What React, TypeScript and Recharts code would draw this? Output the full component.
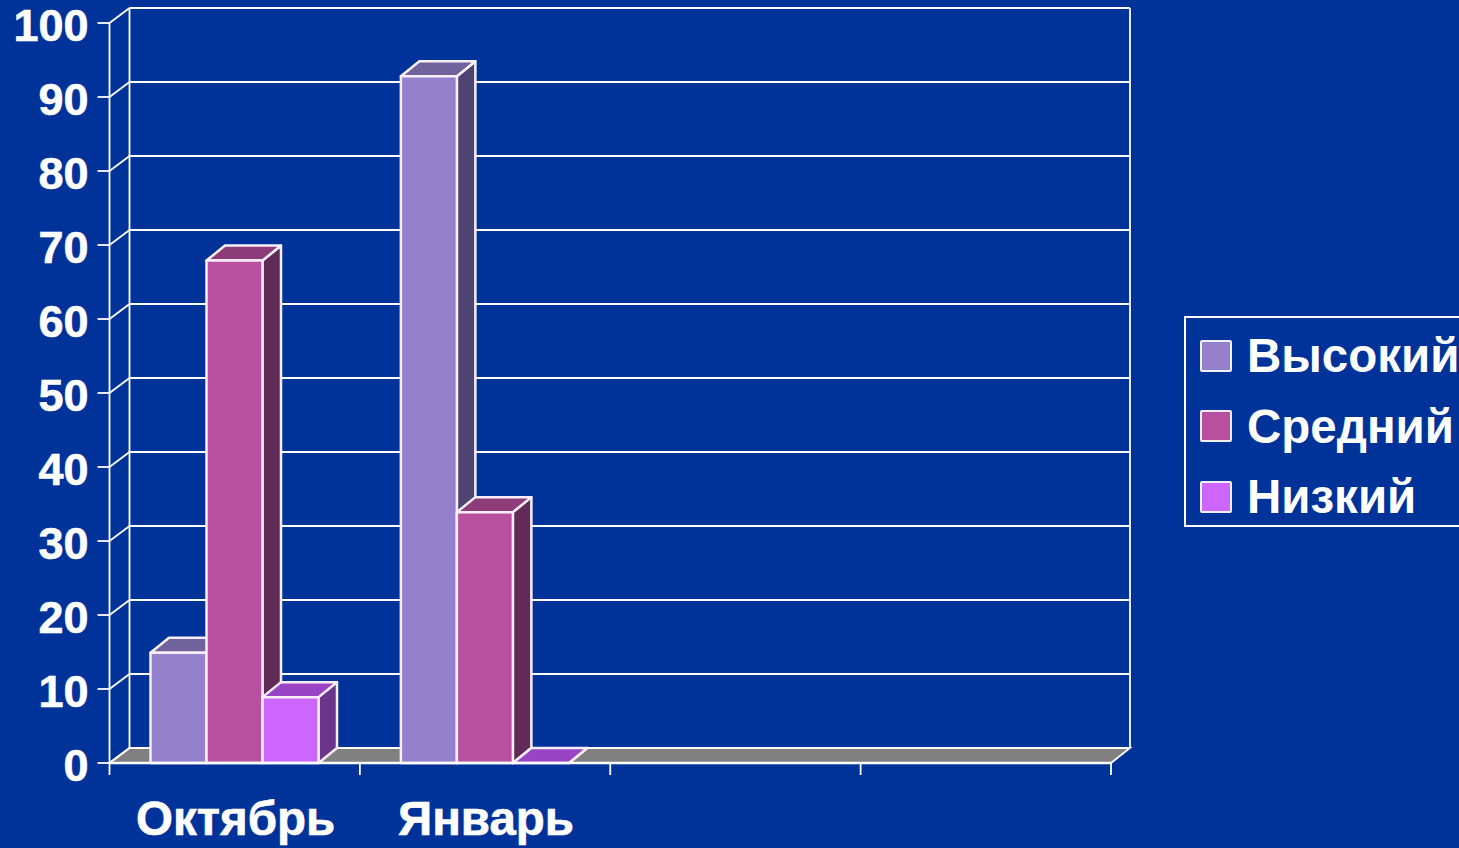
import React from "react";
import {
  BarChart,
  Bar,
  XAxis,
  YAxis,
  CartesianGrid,
  Legend,
  ReferenceArea,
} from "recharts";

const categories = ["Октябрь", "Январь", " ", "  "];
const highValues = [14.9, 92.8, null, null];
const midValues = [67.9, 33.9, null, null];
const lowValues = [8.9, 0, null, null];
const yTicks = [0, 10, 20, 30, 40, 50, 60, 70, 80, 90, 100];

const chartData = categories.map((name, i) => ({
  name,
  high: highValues[i],
  mid: midValues[i],
  low: lowValues[i],
}));

const BG = "#003399";
const FONT = "'Liberation Sans', Arial, sans-serif";
// depth of the fake 3D box
const DX = 18.5;
const DY = 15;

function box3d(topColor: string, sideColor: string) {
  return function Box(props: any) {
    const { x, y, width, height, fill } = props;
    if (x == null || y == null) return null;
    const r = x + width;
    const b = y + height;
    return (
      <g stroke="#f8eef8" strokeWidth={2.5} strokeLinejoin="round">
        <polygon
          points={`${r},${y} ${r + DX},${y - DY} ${r + DX},${b - DY} ${r},${b}`}
          fill={sideColor}
        />
        <polygon
          points={`${x},${y} ${x + DX},${y - DY} ${r + DX},${y - DY} ${r},${y}`}
          fill={topColor}
        />
        <rect x={x} y={y} width={width} height={height} fill={fill} />
      </g>
    );
  };
}

function YTick({ x, y, payload }: any) {
  return (
    <g>
      <line x1={x - 12} y1={y} x2={x} y2={y} stroke="#fff" strokeWidth={1.8} />
      <line x1={x} y1={y} x2={x + 20} y2={y - DY} stroke="#fff" strokeWidth={1.8} />
      <text
        x={x - 21}
        y={y + 18}
        textAnchor="end"
        fill="#fff"
        stroke="#fff"
        strokeWidth={0.6}
        fontFamily={FONT}
        fontWeight={700}
        fontSize={45}
      >
        {payload.value}
      </text>
    </g>
  );
}

function XTick({ x, y, payload, index }: any) {
  const half = payload.offset ?? 125;
  return (
    <g>
      <line x1={x - half} y1={y} x2={x - half} y2={y + 12} stroke="#fff" strokeWidth={1.8} />
      {index === categories.length - 1 && (
        <line x1={x + half} y1={y} x2={x + half} y2={y + 12} stroke="#fff" strokeWidth={1.8} />
      )}
      <text
        x={x + 1}
        y={y + 72}
        textAnchor="middle"
        fill="#fff"
        stroke="#fff"
        strokeWidth={0.6}
        fontFamily={FONT}
        fontWeight={700}
        fontSize={47.5}
      >
        {payload.value}
      </text>
    </g>
  );
}

// floor and the two upright edges of the back wall
function Floor({ x, y, width, height }: any) {
  const r = x + width;
  const b = y + height;
  return (
    <g>
      <polygon
        points={`${x},${b} ${x + 20},${b - DY} ${r + 19},${b - DY} ${r},${b}`}
        fill="#808080"
        stroke="#fff"
        strokeWidth={1.8}
      />
      <line x1={x + 20} y1={y - DY} x2={x + 20} y2={b - DY} stroke="#fff" strokeWidth={1.8} />
      <line x1={r + 19} y1={y - DY} x2={r + 19} y2={b - DY} stroke="#fff" strokeWidth={1.8} />
    </g>
  );
}

function BackLine({ x1, y1, x2, y2 }: any) {
  return (
    <line
      x1={x1 + 20}
      y1={y1 - DY}
      x2={x2 + 19}
      y2={y2 - DY}
      stroke="#fff"
      strokeWidth={1.8}
    />
  );
}

function LegendBox({ payload }: any) {
  return (
    <div
      style={{
        boxSizing: "border-box",
        width: 290,
        height: 211,
        border: "2px solid #fff",
        position: "relative",
        fontFamily: FONT,
        fontWeight: 700,
        fontSize: 47.5,
        color: "#fff",
      }}
    >
      {(payload || []).map((p: any, i: number) => (
        <div
          key={p.value}
          style={{
            position: "absolute",
            left: 14,
            top: 21.5 + i * 70.5,
            height: 32,
            display: "flex",
            alignItems: "center",
            whiteSpace: "nowrap",
          }}
        >
          <span
            style={{
              boxSizing: "border-box",
              display: "inline-block",
              width: 32,
              height: 32,
              background: p.color,
              border: "2.5px solid #f0f0f0",
              borderRadius: 2,
              marginRight: 15,
            }}
          />
          {p.value}
        </div>
      ))}
    </div>
  );
}

export default function App() {
  return (
    <div
      style={{
        position: "absolute",
        left: 0,
        top: 0,
        width: 1459,
        height: 848,
        background: BG,
        overflow: "hidden",
      }}
    >
      <BarChart
        width={1459}
        height={848}
        data={chartData}
        margin={{ top: 23, right: 348, bottom: 0, left: 0 }}
        barGap={0}
        barSize={56}
      >
        <CartesianGrid vertical={false} horizontal={(p: any) => <BackLine key={p.key} {...p} />} />
        <ReferenceArea y1={0} y2={100} shape={(p: any) => <Floor {...p} />} />
        <XAxis
          dataKey="name"
          height={85}
          interval={0}
          stroke="#fff"
          strokeWidth={2.5}
          tickLine={false}
          tickSize={0}
          tickMargin={0}
          tick={(p: any) => <XTick {...p} />}
        />
        <YAxis
          width={109.5}
          domain={[0, 100]}
          ticks={yTicks}
          interval={0}
          stroke="#fff"
          strokeWidth={1.8}
          tickLine={false}
          tickSize={0}
          tickMargin={0}
          tick={(p: any) => <YTick {...p} />}
        />
        <Legend
          layout="horizontal"
          verticalAlign="middle"
          itemSorter={null}
          wrapperStyle={{ left: 1184, top: 316, width: 290, height: 211 }}
          content={(p: any) => <LegendBox {...p} />}
        />
        <Bar dataKey="high" name="Высокий" fill="#9581CB" isAnimationActive={false} shape={box3d("#70629A", "#4D4473")} />
        <Bar dataKey="mid" name="Средний" fill="#B8509F" isAnimationActive={false} shape={box3d("#8C3D79", "#622A56")} />
        <Bar dataKey="low" name="Низкий" fill="#CC66FF" isAnimationActive={false} shape={box3d("#9944C4", "#6B358C")} />
      </BarChart>
    </div>
  );
}
